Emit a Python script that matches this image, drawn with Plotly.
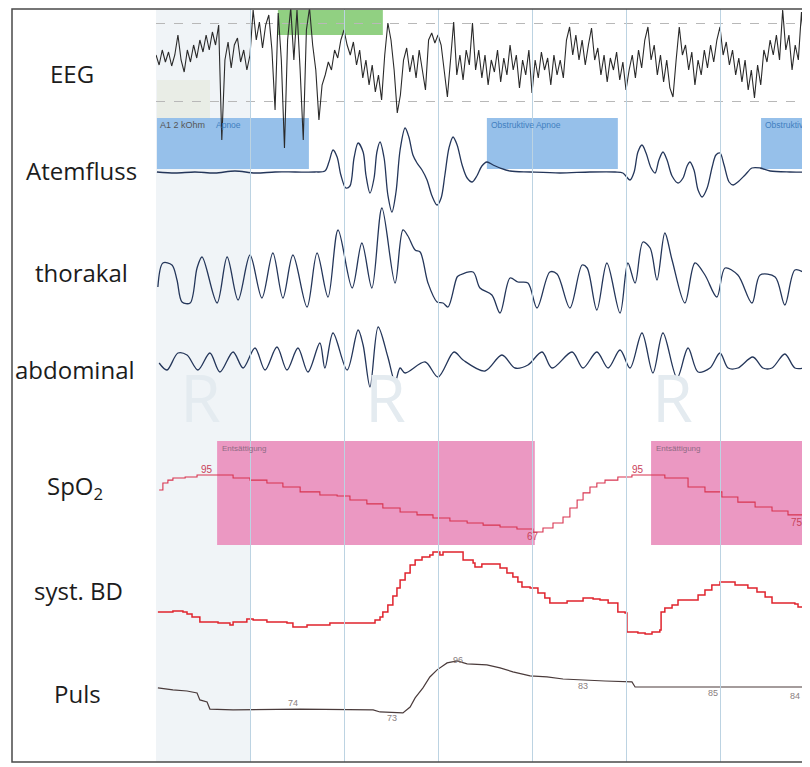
import plotly.graph_objects as go

# ---------------- DATA (time in s, vertical grid every 30 s) ----------------
grid_t = [30, 60, 90, 120, 150, 180]

# EEG, 1 sample per second (a.u.)
eeg_val = [7,-3,12,0,10,-4,7,27,2,-10,12,0,17,4,22,10,27,12,30,17,37,-78,2,20,-6,17,24,0,12,-8,
           7,52,22,40,14,37,47,12,-48,49,2,-86,22,54,2,52,-8,-78,32,54,17,-8,-58,-23,-13,0,-8,12,4,22,
           32,17,7,20,-3,12,-16,2,-23,-3,-30,-13,-38,7,39,22,-8,-51,-33,2,14,-10,7,-16,12,-6,-28,22,29,19,
           27,17,-8,-35,2,40,-13,7,-18,12,-3,39,-8,12,-16,7,-23,2,-10,12,-20,4,-13,17,-8,7,-26,2,-13,12,
           -31,2,-16,10,-8,4,-23,7,-13,2,-16,22,35,7,27,2,22,-3,17,34,2,14,-13,7,-20,4,-8,10,-18,0,
           -28,-8,7,-16,12,-6,22,35,2,17,-13,7,-20,2,-26,-35,2,35,7,17,-8,10,-23,2,-13,12,-6,17,0,22,
           35,7,20,-3,12,-13,4,-20,2,-28,-8,-36,-3,-23,12,0,22,7,27,2,52,12,27,-8,17,2,50,7]
eeg_t = list(range(len(eeg_val)))

atem_t = [0.3,6.1,12.4,18.8,25.2,31.6,38.0,44.4,50.7,53.9,55.2,56.5,57.8,59.0,60.6,61.9,63.2,64.5,66.1,67.0,
          68.3,69.6,70.5,71.5,72.8,74.0,75.3,76.6,77.9,79.5,80.7,82.0,83.3,84.9,86.5,88.1,89.7,91.0,92.2,93.5,
          94.8,96.1,97.7,99.3,100.9,102.4,104.0,105.6,107.6,109.8,113.0,119.4,128.9,138.5,146.5,149.0,151.3,152.6,153.8,155.1,
          156.4,158.0,159.3,160.5,161.8,163.1,164.7,166.6,168.2,169.5,170.4,171.7,173.0,174.3,175.9,177.5,178.7,180.0,181.3,182.9,
          184.2,185.7,188.0,190.2,192.8,196.0,202.3,207.1]
atem_val = [1,0,1,0,2,0,1,1,1,2,11,23,16,-2,-15,-13,15,30,21,-2,
            -20,-5,21,31,15,-22,-39,-19,23,45,36,18,10,3,-7,-23,-32,-25,-2,25,
            36,28,8,-5,-9,-3,7,11,8,5,2,1,0,1,1,0,-7,1,21,28,
            20,5,0,13,21,13,-3,-10,-5,7,11,3,-17,-24,-15,6,18,20,8,-9,
            -12,-9,-2,5,5,2,1,1]

thor_t = [0.6,2.2,5.1,6.7,8.3,10.9,13.1,14.7,19.5,22.7,26.2,30.0,33.8,37.3,40.5,43.7,48.2,51.4,54.9,58.1,
          62.6,65.7,68.9,72.1,76.3,78.8,80.4,82.7,84.3,86.8,89.7,91.6,93.2,96.1,97.0,101.2,103.4,107.2,109.8,113.0,
          115.5,118.7,121.6,125.7,128.0,132.1,136.0,137.6,140.7,143.9,148.1,150.6,152.9,155.4,157.7,159.9,162.4,164.7,168.8,172.0,
          175.2,179.0,181.6,185.7,190.2,192.8,197.6,200.7,203.9,207.1]
thor_val = [-7,17,15,0,-22,-23,12,23,-23,23,-20,25,-18,27,-18,25,-27,27,-17,50,
            -8,37,-8,72,-3,50,44,30,28,-3,-22,-23,-27,3,5,8,-8,-15,-33,2,
            -2,-3,-28,8,6,-28,15,12,-30,17,-33,17,-3,38,32,0,47,20,-23,17,
            5,-17,12,5,-23,5,3,-25,10,7]

abd_t = [1.0,3.5,7.0,9.9,13.4,17.2,20.4,24.6,27.8,31.6,34.8,38.6,41.8,45.3,48.5,52.3,53.9,56.5,61.0,64.5,
         66.1,68.3,70.9,74.0,76.3,77.9,79.5,85.9,90.0,95.1,98.0,105.0,110.4,114.6,118.7,123.2,126.4,132.8,136.3,140.7,
         144.3,148.1,151.3,155.1,158.6,161.8,166.3,169.8,173.0,176.8,180.0,182.6,185.7,190.5,193.7,196.6,200.7,203.9,207.1]
abd_val = [-1,-8,9,7,-8,9,-10,10,-6,14,-8,15,-8,14,-10,19,-6,29,-8,32,
           17,-25,35,5,-20,-6,-11,0,-15,10,2,-9,7,-6,-3,10,-6,10,-6,10,
           -6,12,-6,29,-11,29,-16,14,-10,-6,9,-6,-6,5,-6,-6,8,-6,-6]

spo2_t = [1.0,2.2,3.8,5.4,9.3,13.1,19.5,24.6,30.0,35.4,40.5,46.0,52.3,57.8,61.9,67.3,72.4,77.9,83.3,88.4,
          93.8,99.3,104.4,109.8,115.2,120.3,123.5,126.7,129.9,132.1,134.4,136.3,138.5,140.7,143.3,147.4,151.9,158.3,162.4,169.8,
          175.2,180.6,185.7,191.2,196.6,201.7,207.1]
spo2_pct = [87.6,91.1,92.5,93.5,94.0,95.0,95.0,93.5,92.5,91.1,89.1,86.7,85.2,84.7,82.7,80.8,78.8,76.8,75.4,73.9,
            72.4,71.4,70.4,69.5,68.5,67.0,69.0,71.4,74.4,78.8,82.7,86.2,89.1,91.1,92.5,94.0,95.0,95.0,93.5,89.1,
            86.7,84.2,81.7,79.3,77.3,75.4,72.9]
spo2_lbl_text = ["95", "67", "95", "75"]
spo2_lbl_t = [16.3, 120.3, 153.8, 204.6]
spo2_lbl_v = [97.9, 64.6, 97.9, 71.9]

bd_t = [0.6,5.4,8.6,9.9,11.5,14.0,18.2,19.8,23.6,24.6,29.0,31.0,35.4,41.8,43.7,46.9,48.2,55.5,68.3,69.9,
        71.5,72.4,74.0,75.6,76.9,77.9,79.5,81.1,82.7,84.9,87.4,88.4,90.6,91.6,97.7,98.0,101.2,101.8,104.0,109.1,
        109.8,112.0,113.9,115.5,116.8,119.4,121.9,124.1,125.7,129.9,131.2,136.3,139.5,141.7,144.3,147.4,149.7,150.3,153.8,156.1,
        158.3,160.8,161.2,162.4,164.7,166.6,172.0,173.0,175.2,177.4,180.0,183.2,184.8,188.9,191.8,194.4,196.6,203.9,204.9,207.1]
bd_mmhg = [114,114.5,114,113,111.5,109,109,108.5,107.5,109,110.5,110,109,108.5,106.5,106.5,107.5,108.5,108.5,110,
           111.5,114,117.5,122,126,130,133.5,137.5,140,141.5,142.5,144,142.5,144,144,140,138.5,136.5,138,138,
           136,133.5,131.5,129,126.5,126,123.5,121,118.5,118.5,119.5,121,120.5,120,118.5,114,113.5,104,103.5,103,
           104,105,114,116,117.5,120,120,122.5,125,127.5,129,129,127.5,126,124,121.5,118.5,118,116.5,116.5]

puls_t = [0.6,5.4,9.9,13.1,14.0,16.3,17.2,24.6,46.0,69.3,71.5,78.8,81.1,82.7,85.2,87.4,89.7,92.9,96.1,99.3,
          105.6,109.8,113.9,119.4,124.8,129.9,143.3,151.9,152.9,175.2,207.1]
puls_bpm = [83.9,83.0,82.5,81.6,78.5,77.6,74.4,74.0,74.4,74.0,73.1,72.7,75.3,79.4,83.9,88.8,92.0,95.1,96.0,94.7,
            94.2,92.9,91.1,89.3,88.8,87.9,87.0,86.6,84.3,84.3,84.3]
puls_lbl_text = ["74", "73", "96", "83", "85", "84"]
puls_lbl_t = [43.7, 75.3, 96.4, 136.3, 177.8, 203.9]
puls_lbl_v = [77.1, 70.4, 96.5, 84.8, 81.6, 80.3]

apnoe_start = [0.3, 105.6, 193.1]
apnoe_end = [48.8, 147.4, 207.4]
apnoe_text = ["Apnoe", "Obstruktive Apnoe", "Obstruktiv"]
desat_start = [19.5, 158.0]
desat_end = [120.9, 207.4]
arousal_start = [38.9]
arousal_end = [72.4]

channel_names = ["EEG", "Atemfluss", "thorakal", "abdominal", "SpO<sub>2</sub>", "syst. BD", "Puls"]

# ---------------- LAYOUT GEOMETRY (screen pixels of the 810x767 window) ----------------
BODY = 8                      # default page margin of the html body
W_FIG, H_FIG = 810 - BODY, 767 - BODY
L, R, T, B = 12, 806, 9, 762  # frame in screen pixels
PW, PH = R - L, B - T
X0_PX = 156
PX_PER_S = 94 / 30.0
X_END = (R - X0_PX) / PX_PER_S


def pyp(py):
    return (B - py) / PH


def pxp(px):
    return (px - L) / PW


def t_of(px):
    return (px - X0_PX) / PX_PER_S


def band(top, bot):
    return [pyp(bot), pyp(top)]


fig = go.Figure()

line_resp = dict(color="#24365a", width=1.3, shape="spline", smoothing=0.9)
fig.add_trace(go.Scatter(x=eeg_t, y=eeg_val, mode="lines", yaxis="y",
                         line=dict(color="#2a2a2a", width=1.1)))
fig.add_trace(go.Scatter(x=atem_t, y=atem_val, mode="lines", yaxis="y2", line=line_resp))
fig.add_trace(go.Scatter(x=thor_t, y=thor_val, mode="lines", yaxis="y3", line=line_resp))
fig.add_trace(go.Scatter(x=abd_t, y=abd_val, mode="lines", yaxis="y4", line=line_resp))
fig.add_trace(go.Scatter(x=spo2_t, y=spo2_pct, mode="lines", yaxis="y5",
                         line=dict(color="#d8334f", width=1.1, shape="hv")))
fig.add_trace(go.Scatter(x=bd_t, y=bd_mmhg, mode="lines", yaxis="y6",
                         line=dict(color="#e0232d", width=1.5, shape="hv")))
fig.add_trace(go.Scatter(x=puls_t, y=puls_bpm, mode="lines", yaxis="y7",
                         line=dict(color="#4a3b3b", width=1.2)))
# full-height helper subplot carrying the vertical time grid
fig.add_trace(go.Scatter(x=[0], y=[0], mode="lines", yaxis="y8", opacity=0))
fig.update_traces(showlegend=False, hoverinfo="skip")

hidden = dict(showticklabels=False, ticks="", showline=False, zeroline=False,
              showgrid=False, anchor="x", fixedrange=True)
fig.update_layout(
    width=W_FIG, height=H_FIG, autosize=False,
    margin=dict(l=L - BODY, r=810 - R, t=T - BODY, b=767 - B, pad=0),
    paper_bgcolor="white", plot_bgcolor="rgba(0,0,0,0)",
    xaxis=dict(domain=[pxp(X0_PX), 1], range=[0, X_END], anchor="y8",
               showticklabels=False, ticks="", zeroline=False, showline=False,
               tickvals=grid_t, showgrid=True, gridcolor="#bcd3e2", gridwidth=1),
    yaxis=dict(domain=band(9, 152), range=[62 - 152, 62 - 9], **{**hidden, "showgrid": True},
               tickvals=[-39, 39], gridcolor="#b8b8b8", griddash="dash", gridwidth=1),
    yaxis2=dict(domain=band(112, 225), range=[173 - 225, 173 - 112], **hidden),
    yaxis3=dict(domain=band(195, 325), range=[280 - 325, 280 - 195], **hidden),
    yaxis4=dict(domain=band(318, 398), range=[362 - 398, 362 - 318], **hidden),
    yaxis5=dict(domain=band(441, 545), range=[60.63, 111.69], **hidden),
    yaxis6=dict(domain=band(545, 642), range=[99.0, 147.5], **hidden),
    yaxis7=dict(domain=band(648, 724), range=[67.7, 101.8], **hidden),
    yaxis8=dict(domain=[0, 1], range=[0, 1], **hidden),
)

shapes = []
# pale scan band on the left of the trace area
shapes.append(dict(type="rect", xref="x", yref="paper", x0=0, x1=grid_t[0], y0=0, y1=1,
                   fillcolor="#f0f4f7", line=dict(width=0), layer="below"))
# impedance label box
shapes.append(dict(type="rect", xref="x", yref="paper", x0=0.3, x1=t_of(210), y0=pyp(132), y1=pyp(80),
                   fillcolor="#e9ede6", line=dict(width=0), layer="below"))
for s, e in zip(apnoe_start, apnoe_end):
    shapes.append(dict(type="rect", xref="x", yref="paper", x0=s, x1=e, y0=pyp(169), y1=pyp(118),
                       fillcolor="rgb(150,192,234)", line=dict(width=0), layer="below"))
for s, e in zip(desat_start, desat_end):
    shapes.append(dict(type="rect", xref="x", yref="paper", x0=s, x1=e, y0=pyp(545), y1=pyp(441),
                       fillcolor="rgb(235,152,194)", line=dict(width=0), layer="below"))
for s, e in zip(arousal_start, arousal_end):
    shapes.append(dict(type="rect", xref="x", yref="paper", x0=s, x1=e, y0=pyp(35), y1=pyp(10),
                       fillcolor="rgb(145,208,130)", line=dict(width=0), layer="below"))
# outer frame
shapes.append(dict(type="rect", xref="paper", yref="paper", x0=0, x1=1, y0=0, y1=1,
                   line=dict(color="#4a4a4a", width=1.5), fillcolor="rgba(0,0,0,0)", layer="above"))
fig.update_layout(shapes=shapes)

ann = []
# faint watermark letters
for px in [200, 385, 672]:
    ann.append(dict(xref="paper", yref="paper", x=pxp(px), y=pyp(396), text="R", showarrow=False,
                    xanchor="center", yanchor="middle",
                    font=dict(family="Open Sans", size=66, color="#e4ebf0")))
label_pos = [(72, 73), (81, 170), (81, 272), (75, 369), (75, 487), (78, 590), (77, 693)]
for name, (cx, cy) in zip(channel_names, label_pos):
    ann.append(dict(xref="paper", yref="paper", x=pxp(cx), y=pyp(cy), text=name, showarrow=False,
                    xanchor="center", yanchor="middle",
                    font=dict(family="Open Sans", size=24, color="#1c1c1c")))
ann.append(dict(xref="x", yref="paper", x=0.5, y=pyp(125), text="A1 2 kOhm", showarrow=False,
                xanchor="left", yanchor="middle", font=dict(family="Liberation Sans", size=9, color="#555555")))
for s, txt in zip(apnoe_start, apnoe_text):
    xs = s + 0.6 if s > 1 else t_of(214)
    ann.append(dict(xref="x", yref="paper", x=xs, y=pyp(125), text=txt, showarrow=False,
                    xanchor="left", yanchor="middle",
                    font=dict(family="Liberation Sans", size=8.5, color="#3f7fc0")))
for s in desat_start:
    ann.append(dict(xref="x", yref="paper", x=s + 0.8, y=pyp(449), text="Entsättigung", showarrow=False,
                    xanchor="left", yanchor="middle",
                    font=dict(family="Liberation Sans", size=8, color="#8f6a84")))
for txt, t, v in zip(spo2_lbl_text, spo2_lbl_t, spo2_lbl_v):
    ann.append(dict(xref="x", yref="y5", x=t, y=v, text=txt, showarrow=False,
                    xanchor="center", yanchor="middle",
                    font=dict(family="Liberation Sans", size=10, color="#c9425a")))
for txt, t, v in zip(puls_lbl_text, puls_lbl_t, puls_lbl_v):
    ann.append(dict(xref="x", yref="y7", x=t, y=v, text=txt, showarrow=False,
                    xanchor="center", yanchor="middle",
                    font=dict(family="Liberation Sans", size=9, color="#8a8080")))
fig.update_layout(annotations=ann)

fig.write_html("out.html")
